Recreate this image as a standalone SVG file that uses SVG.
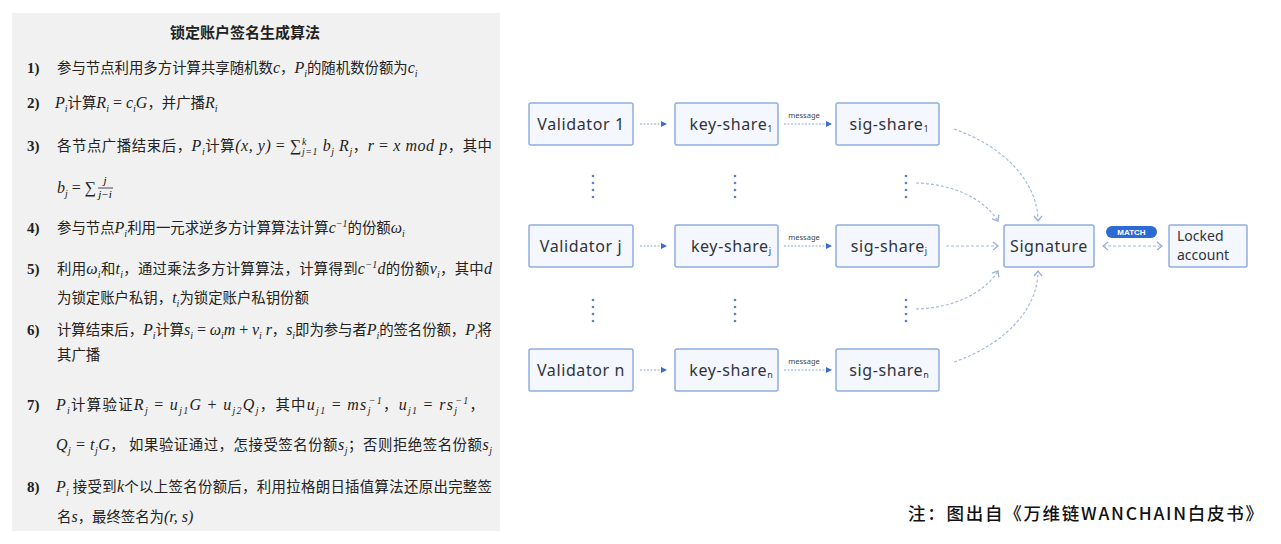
<svg xmlns="http://www.w3.org/2000/svg" width="1281" height="544" viewBox="0 0 1281 544">
<style>
.cn{font-family:"Noto Sans CJK SC","Noto Sans CJK JP",sans-serif;font-size:14.4px;fill:#222}
.num{font-family:"Liberation Serif",serif;font-weight:bold;font-size:15px;fill:#222}
.m{font-family:"Liberation Serif",serif;font-style:italic;font-size:16px}
.up{font-family:"Liberation Serif",serif;font-style:normal;font-size:16px}
.s{font-size:10px;baseline-shift:-4px}
.u{font-size:10px;baseline-shift:6px}
.box{fill:#f4f7fd;stroke:#8eaee0;stroke-width:1.5}
.nt{font-family:"Noto Sans",sans-serif;font-size:16px;fill:#30343b;letter-spacing:0.6px;text-anchor:middle}
.sb{font-size:9px;letter-spacing:0}
.dash{fill:none;stroke:#a7badc;stroke-width:1.2;stroke-dasharray:3 2}
.dsh{fill:none;stroke:#8fa7d6;stroke-width:1.2;stroke-dasharray:2 1.5}
.dot{fill:#5b80c6}
</style>
<defs>
<marker id="tri" markerWidth="6" markerHeight="6" refX="5" refY="3" orient="auto" markerUnits="userSpaceOnUse"><path d="M0,0 L6,3 L0,6 z" fill="#3b6fcf"/></marker>
<marker id="chev" markerWidth="10" markerHeight="10" refX="8" refY="5" orient="auto-start-reverse" markerUnits="userSpaceOnUse"><path d="M3,1 L8,5 L3,9" fill="none" stroke="#9cb1d8" stroke-width="1.3"/></marker>
</defs>
<rect width="1281" height="544" fill="#ffffff"/>

<g id="algorithm-panel">
<rect x="12" y="13" width="488" height="518" fill="#f1f1f1"/>
<text x="245" y="38" text-anchor="middle" class="cn" style="font-weight:bold;font-size:15px">锁定账户签名生成算法</text>

<text x="27" y="73" class="num">1)</text>
<text x="57" y="73" class="cn">参与节点利用多方计算共享随机数<tspan class="m">c</tspan>，<tspan class="m">P<tspan class="s">i</tspan></tspan>的随机数份额为<tspan class="m">c<tspan class="s">i</tspan></tspan></text>

<text x="27" y="108" class="num">2)</text>
<text x="55" y="108" class="cn"><tspan class="m">P<tspan class="s">i</tspan></tspan>计算<tspan class="m">R<tspan class="s">i</tspan></tspan><tspan class="up"> = </tspan><tspan class="m">c<tspan class="s">i</tspan>G</tspan>，并广播<tspan class="m">R<tspan class="s">i</tspan></tspan></text>

<text x="27" y="151" class="num">3)</text>
<text x="57" y="151" class="cn" textLength="435" lengthAdjust="spacing">各节点广播结束后，<tspan class="m">P<tspan class="s">i</tspan></tspan>计算<tspan class="m">(x, y)</tspan><tspan class="up"> = ∑</tspan><tspan class="m u">k</tspan><tspan class="m s" dx="-5">j=1</tspan><tspan class="m"> b<tspan class="s">j</tspan> R<tspan class="s">j</tspan></tspan>，<tspan class="m">r</tspan><tspan class="up"> = </tspan><tspan class="m">x mod p</tspan>，其中</text>
<text x="57" y="193" class="cn"><tspan class="m">b<tspan class="s">j</tspan></tspan><tspan class="up"> = ∑</tspan></text>
<text x="105" y="184" class="m" style="font-size:11px" text-anchor="middle">j</text>
<line x1="98" y1="188" x2="113" y2="188" stroke="#222" stroke-width="0.8"/>
<text x="105" y="198" class="m" style="font-size:11px" text-anchor="middle">j−i</text>

<text x="27" y="233" class="num">4)</text>
<text x="57" y="233" class="cn">参与节点<tspan class="m">P<tspan class="s">i</tspan></tspan>利用一元求逆多方计算算法计算<tspan class="m">c<tspan class="u">−1</tspan></tspan>的份额<tspan class="m">ω<tspan class="s">i</tspan></tspan></text>

<text x="27" y="274" class="num">5)</text>
<text x="57" y="274" class="cn" textLength="435" lengthAdjust="spacing">利用<tspan class="m">ω<tspan class="s">i</tspan></tspan>和<tspan class="m">t<tspan class="s">i</tspan></tspan>，通过乘法多方计算算法，计算得到<tspan class="m">c<tspan class="u">−1</tspan>d</tspan>的份额<tspan class="m">v<tspan class="s">i</tspan></tspan>，其中<tspan class="m">d</tspan></text>
<text x="57" y="303" class="cn">为锁定账户私钥，<tspan class="m">t<tspan class="s">i</tspan></tspan>为锁定账户私钥份额</text>

<text x="27" y="335" class="num">6)</text>
<text x="57" y="335" class="cn" textLength="435" lengthAdjust="spacing">计算结束后，<tspan class="m">P<tspan class="s">i</tspan></tspan>计算<tspan class="m">s<tspan class="s">i</tspan></tspan><tspan class="up"> = </tspan><tspan class="m">ω<tspan class="s">i</tspan>m</tspan><tspan class="up"> + </tspan><tspan class="m">v<tspan class="s">i</tspan> r</tspan>，<tspan class="m">s<tspan class="s">i</tspan></tspan>即为参与者<tspan class="m">P<tspan class="s">i</tspan></tspan>的签名份额，<tspan class="m">P<tspan class="s">i</tspan></tspan>将</text>
<text x="57" y="360" class="cn">其广播</text>

<text x="27" y="410" class="num">7)</text>
<text x="56" y="410" class="cn" textLength="428" lengthAdjust="spacing"><tspan class="m">P<tspan class="s">i</tspan></tspan>计算验证<tspan class="m">R<tspan class="s">j</tspan></tspan><tspan class="up"> = </tspan><tspan class="m">u<tspan class="s">j1</tspan>G</tspan><tspan class="up"> + </tspan><tspan class="m">u<tspan class="s">j2</tspan>Q<tspan class="s">j</tspan></tspan>，其中<tspan class="m">u<tspan class="s">j1</tspan></tspan><tspan class="up"> = </tspan><tspan class="m">ms<tspan class="s">j</tspan><tspan class="u" dx="-3">−1</tspan></tspan>，<tspan class="m">u<tspan class="s">j1</tspan></tspan><tspan class="up"> = </tspan><tspan class="m">rs<tspan class="s">j</tspan><tspan class="u" dx="-3">−1</tspan></tspan>，</text>
<text x="56" y="450" class="cn" textLength="436" lengthAdjust="spacing"><tspan class="m">Q<tspan class="s">j</tspan></tspan><tspan class="up"> = </tspan><tspan class="m">t<tspan class="s">j</tspan>G</tspan>，  如果验证通过，怎接受签名份额<tspan class="m">s<tspan class="s">j</tspan></tspan>；否则拒绝签名份额<tspan class="m">s<tspan class="s">j</tspan></tspan></text>

<text x="27" y="492" class="num">8)</text>
<text x="56" y="492" class="cn" textLength="436" lengthAdjust="spacing"><tspan class="m">P<tspan class="s">i</tspan></tspan> 接受到<tspan class="m">k</tspan>个以上签名份额后，利用拉格朗日插值算法还原出完整签</text>
<text x="57" y="522" class="cn">名<tspan class="m">s</tspan>，最终签名为<tspan class="m">(r, s)</tspan></text>
</g>

<g id="connectors">
<line x1="640" y1="124" x2="666" y2="124" class="dsh" marker-end="url(#tri)"/>
<line x1="640" y1="246" x2="666" y2="246" class="dsh" marker-end="url(#tri)"/>
<line x1="640" y1="370" x2="666" y2="370" class="dsh" marker-end="url(#tri)"/>
<line x1="784" y1="124" x2="831" y2="124" class="dsh" marker-end="url(#tri)"/>
<line x1="784" y1="246" x2="831" y2="246" class="dsh" marker-end="url(#tri)"/>
<line x1="784" y1="370" x2="831" y2="370" class="dsh" marker-end="url(#tri)"/>
<g font-family="Noto Sans, sans-serif" font-size="7.5" fill="#444" text-anchor="middle">
<text x="804" y="118">message</text>
<text x="804" y="240">message</text>
<text x="804" y="364">message</text>
</g>
<path d="M954,129 C1008,148 1038,185 1038,221" class="dash" marker-end="url(#chev)"/>
<path d="M916,183 C955,184 985,200 998,221" class="dash" marker-end="url(#chev)"/>
<path d="M946,246 L998,246" class="dash" marker-end="url(#chev)"/>
<path d="M916,309 C955,308 985,292 998,271" class="dash" marker-end="url(#chev)"/>
<path d="M954,362 C1008,343 1038,307 1038,271" class="dash" marker-end="url(#chev)"/>
<path d="M1103,246 L1162,246" class="dash" marker-start="url(#chev)" marker-end="url(#chev)"/>
</g>

<g id="dots">
<g class="dot">
<circle cx="593" cy="176" r="1.3"/><circle cx="593" cy="183" r="1.3"/><circle cx="593" cy="190" r="1.3"/><circle cx="593" cy="197" r="1.3"/>
<circle cx="735" cy="176" r="1.3"/><circle cx="735" cy="183" r="1.3"/><circle cx="735" cy="190" r="1.3"/><circle cx="735" cy="197" r="1.3"/>
<circle cx="906" cy="176" r="1.3"/><circle cx="906" cy="183" r="1.3"/><circle cx="906" cy="190" r="1.3"/><circle cx="906" cy="197" r="1.3"/>
<circle cx="593" cy="300" r="1.3"/><circle cx="593" cy="307" r="1.3"/><circle cx="593" cy="314" r="1.3"/><circle cx="593" cy="321" r="1.3"/>
<circle cx="735" cy="300" r="1.3"/><circle cx="735" cy="307" r="1.3"/><circle cx="735" cy="314" r="1.3"/><circle cx="735" cy="321" r="1.3"/>
<circle cx="906" cy="300" r="1.3"/><circle cx="906" cy="307" r="1.3"/><circle cx="906" cy="314" r="1.3"/><circle cx="906" cy="321" r="1.3"/>
</g>
</g>

<g id="validator-1"><rect x="529" y="103" width="104" height="42" rx="2" class="box"/><text x="581" y="130" class="nt">Validator 1</text></g>
<g id="validator-j"><rect x="529" y="225" width="104" height="42" rx="2" class="box"/><text x="581" y="252" class="nt">Validator j</text></g>
<g id="validator-n"><rect x="529" y="349" width="104" height="42" rx="2" class="box"/><text x="581" y="376" class="nt">Validator n</text></g>

<g id="key-share-1"><rect x="675" y="103" width="103" height="42" rx="2" class="box"/><text x="731" y="130" class="nt">key-share<tspan class="sb" dy="2">1</tspan></text></g>
<g id="key-share-j"><rect x="675" y="225" width="103" height="42" rx="2" class="box"/><text x="731" y="252" class="nt">key-share<tspan class="sb" dy="2">j</tspan></text></g>
<g id="key-share-n"><rect x="675" y="349" width="103" height="42" rx="2" class="box"/><text x="731" y="376" class="nt">key-share<tspan class="sb" dy="2">n</tspan></text></g>

<g id="sig-share-1"><rect x="836" y="103" width="103" height="42" rx="2" class="box"/><text x="889" y="130" class="nt">sig-share<tspan class="sb" dy="2">1</tspan></text></g>
<g id="sig-share-j"><rect x="836" y="225" width="103" height="42" rx="2" class="box"/><text x="889" y="252" class="nt">sig-share<tspan class="sb" dy="2">j</tspan></text></g>
<g id="sig-share-n"><rect x="836" y="349" width="103" height="42" rx="2" class="box"/><text x="889" y="376" class="nt">sig-share<tspan class="sb" dy="2">n</tspan></text></g>

<g id="signature"><rect x="1004" y="225" width="90" height="42" rx="2" class="box"/><text x="1049" y="252" class="nt">Signature</text></g>

<g id="match-label"><rect x="1106" y="226" width="51" height="12" rx="6" fill="#2e6ad6"/><text x="1131.5" y="235" font-family="Liberation Sans, sans-serif" font-weight="bold" font-size="8" fill="#ffffff" text-anchor="middle">MATCH</text></g>

<g id="locked-account"><rect x="1169" y="225" width="78" height="42" rx="2" class="box"/><text x="1177" y="241" class="nt" style="text-anchor:start;letter-spacing:0;font-size:14px">Locked</text><text x="1177" y="260" class="nt" style="text-anchor:start;letter-spacing:0;font-size:14px">account</text></g>

<text id="note" x="908" y="520" font-family="Noto Sans CJK SC, sans-serif" font-size="17.5" font-weight="500" fill="#111" textLength="355" lengthAdjust="spacing">注：图出自《万维链WANCHAIN白皮书》</text>
</svg>
